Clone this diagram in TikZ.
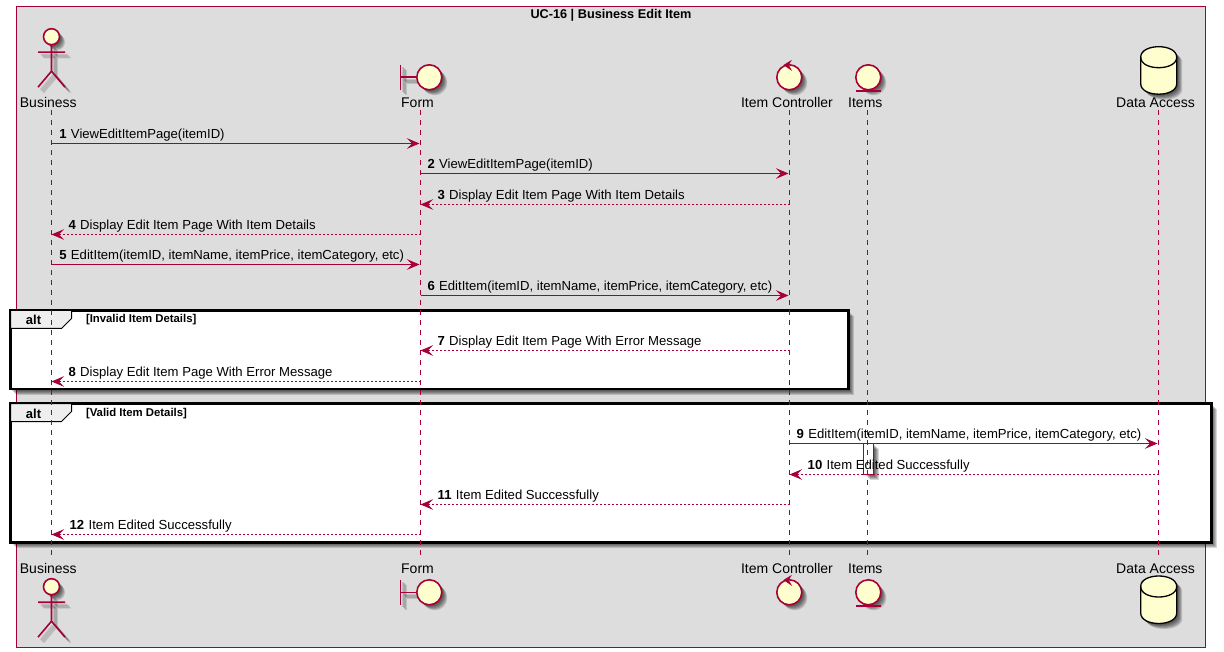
\documentclass[tikz,border=0pt]{standalone}
\usepackage{fontspec}
\setmainfont{Liberation Sans}
\usetikzlibrary{arrows.meta}
\definecolor{pu}{HTML}{A80036}
\definecolor{ylw}{HTML}{FEFECE}
\definecolor{bgbox}{HTML}{DDDDDD}
\definecolor{tabc}{HTML}{EEEEEE}
\newcommand{\softfill}[1]{\foreach \o in {1.5,2.5,3.5,4.5,5.5}{\fill[black,opacity=.16,shift={(\o,\o)}] #1;}}
\newcommand{\softdraw}[2]{\foreach \o in {2.5,3.5,4.5,5.5}{\draw[black,opacity=.13,line width=#1,shift={(\o,\o)}] #2;}}
\newcommand{\msgtxt}[2]{{\bfseries #1}\hspace{4.4pt}#2}
\tikzset{
  x=1pt,y=-1pt,
  every node/.style={inner sep=0pt,outer sep=0pt,font=\fontsize{13.12}{15}\selectfont,text=black},
  outerbox/.style={draw=pu,fill=bgbox,line width=1pt},
  party/.style={anchor=base,font=\fontsize{14}{16}\selectfont},
  life/.style={draw=pu,line width=1pt,dash pattern=on 5pt off 5pt},
  figline/.style={draw=pu,line width=1.6pt},
  figcirc/.style={draw=pu,fill=ylw,line width=1.6pt},
  msg/.style={draw=pu,line width=1pt,-{Stealth[length=12.5pt,width=10.5pt,inset=5pt,color=pu]},shorten >=1pt},
  reply/.style={draw=pu,line width=1pt,dash pattern=on 2pt off 2pt,-{Stealth[length=12.5pt,width=10.5pt,inset=5pt,color=pu,sep=0pt]}},
  msglabel/.style={anchor=base west},
  frame/.style={draw=black,fill=white,line width=2.2pt},
  tabshape/.style={draw=black,fill=tabc,line width=1pt},
  alttext/.style={anchor=base,font=\fontsize{13}{15}\selectfont\bfseries},
  guard/.style={anchor=base west,font=\fontsize{11.35}{13}\selectfont\bfseries},
  actorpic/.pic={
    \softdraw{1.6pt}{(0,8)--(0,34.5) (-13.5,15.5)--(13.5,15.5) (-13.5,50.5)--(0,34.5)--(13.5,50.5)}
    \softfill{(0,0) circle[radius=8]}
    \draw[figline] (0,8)--(0,34.5) (-13.5,15.5)--(13.5,15.5) (-13.5,50.5)--(0,34.5)--(13.5,50.5);
    \draw[figcirc] (0,0) circle[radius=8];
  },
  boundarypic/.pic={
    \softdraw{1.6pt}{(-29,-12.5)--(-29,12.5) (-29,0)--(-12.5,0)}
    \softfill{(0,0) circle[radius=12.5]}
    \draw[figline] (-29,-12.5)--(-29,12.5) (-29,0)--(-12.5,0);
    \draw[figcirc] (0,0) circle[radius=12.5];
  },
  controlpic/.pic={
    \softfill{(0,0) circle[radius=12.5]}
    \draw[figcirc] (0,0) circle[radius=12.5];
    \fill[pu] (-5.8,-12.3)--(2.6,-17.5)--(-0.5,-12.3)--(2.8,-6.3)--cycle;
  },
  entitypic/.pic={
    \softfill{(0,0) circle[radius=12.5]}
    \draw[figcirc] (0,0) circle[radius=12.5];
    \draw[figline] (-12.8,13.7)--(12.8,13.7);
  },
  dbpic/.pic={
    \softfill{(-18,10.5) .. controls (-18,-3.5) and (18,-3.5) .. (18,10.5) -- (18,37) .. controls (18,51) and (-18,51) .. (-18,37) -- cycle}
    \draw[fill=ylw,draw=black,line width=1.3pt] (-18,10.5) .. controls (-18,-3.5) and (18,-3.5) .. (18,10.5) -- (18,37) .. controls (18,51) and (-18,51) .. (-18,37) -- cycle;
    \draw[draw=black,line width=1.3pt] (-18,10.5) .. controls (-18,24.5) and (18,24.5) .. (18,10.5);
  }
}
\begin{document}
\begin{tikzpicture}
\useasboundingbox (0,0) rectangle (1224,652);
% outer box
\path[outerbox] (16.5,6.5) rectangle (1205.5,647.5);
\node[anchor=base,font=\fontsize{12.7}{14}\selectfont\bfseries] (title) at (611,19) {UC-16 | Business Edit Item};

% lifeline anchors
\coordinate (bT) at (51.5,110);  \coordinate (bB) at (51.5,556);
\coordinate (fT) at (420.5,110); \coordinate (fB) at (420.5,556);
\coordinate (cT) at (789.5,110); \coordinate (cB) at (789.5,556);
\coordinate (iT) at (867.5,110); \coordinate (iB) at (867.5,556);
\coordinate (dT) at (1158.5,110);\coordinate (dB) at (1158.5,556);

% alt frames
\softfill{(10.5,310.5) rectangle (848.5,389)}
\path[frame] (10.5,310.5) rectangle (848.5,389);
\path[tabshape] (10.5,310.5) -- (71.5,310.5) -- (71.5,318.5) -- (61.5,328.5) -- (10.5,328.5) -- cycle;
\node[alttext] (alt1) at (33.5,325) {alt};
\node[guard] (g1) at (86,323) {[Invalid Item Details]};

\softfill{(10.5,403.5) rectangle (1211.5,542.5)}
\path[frame] (10.5,403.5) rectangle (1211.5,542.5);
\path[tabshape] (10.5,403.5) -- (71.5,403.5) -- (71.5,411.5) -- (61.5,421.5) -- (10.5,421.5) -- cycle;
\node[alttext] (alt2) at (33.5,418) {alt};
\node[guard] (g2) at (86,416.5) {[Valid Item Details]};

% activation
\softfill{(864,443.5) rectangle (873.5,474.5)}
\node[draw=pu,fill=white,line width=1pt,minimum width=10pt,minimum height=31pt] (act) at (868.7,459) {};

% lifelines
\draw[life] (bT) -- (bB);
\draw[life] (fT) -- (fB);
\draw[life] (cT) -- (cB);
\draw[life] (iT) -- (iB);
\draw[life] (dT) -- (dB);

% participants
\pic at (51.5,36.7) {actorpic};
\pic at (51.5,586.7) {actorpic};
\pic at (429.3,77.3) {boundarypic};
\pic at (429.3,592.3) {boundarypic};
\pic at (789.3,77.3) {controlpic};
\pic at (789.3,592.3) {controlpic};
\pic at (868.3,77.3) {entitypic};
\pic at (868.3,592.3) {entitypic};
\pic at (1158.7,46.7) {dbpic};
\pic at (1158.7,576) {dbpic};

\node[party] (pb1) at (48.3,108) {Business};
\node[party] (pf1) at (417.5,108) {Form};
\node[party] (pc1) at (787,108) {Item Controller};
\node[party] (pi1) at (865.3,108) {Items};
\node[party] (pd1) at (1155.5,108) {Data Access};
\node[party] (pb2) at (48.3,573.3) {Business};
\node[party] (pf2) at (417.5,573.3) {Form};
\node[party] (pc2) at (787,573.3) {Item Controller};
\node[party] (pi2) at (865.3,573.3) {Items};
\node[party] (pd2) at (1155.5,573.3) {Data Access};

% message rows
\coordinate (m1) at (0,143.5); \coordinate (m2) at (0,173.5); \coordinate (m3) at (0,204.5);
\coordinate (m4) at (0,234.5); \coordinate (m5) at (0,264.5); \coordinate (m6) at (0,295.5);
\coordinate (m7) at (0,350.5); \coordinate (m8) at (0,381.5); \coordinate (m9) at (0,443.5);
\coordinate (m10) at (0,474.5);\coordinate (m11) at (0,504.5);\coordinate (m12) at (0,534.5);

\draw[msg] (bT|-m1) -- (fT|-m1);
\draw[msg] (fT|-m2) -- (cT|-m2);
\draw[reply] (cT|-m3) -- (fT|-m3);
\draw[reply] (fT|-m4) -- (bT|-m4);
\draw[msg] (bT|-m5) -- (fT|-m5);
\draw[msg] (fT|-m6) -- (cT|-m6);
\draw[reply] (cT|-m7) -- (fT|-m7);
\draw[reply] (fT|-m8) -- (bT|-m8);
\draw[msg] (cT|-m9) -- (dT|-m9);
\draw[reply] (dT|-m10) -- (cT|-m10);
\draw[reply] (cT|-m11) -- (fT|-m11);
\draw[reply] (fT|-m12) -- (bT|-m12);

\node[msglabel] (t1) at (59.3,138.3) {\msgtxt{1}{ViewEditItemPage(itemID)}};
\node[msglabel] (t2) at (427.5,168.8) {\msgtxt{2}{ViewEditItemPage(itemID)}};
\node[msglabel] (t3) at (437.5,199.8) {\msgtxt{3}{Display Edit Item Page With Item Details}};
\node[msglabel] (t4) at (68.5,229.8) {\msgtxt{4}{Display Edit Item Page With Item Details}};
\node[msglabel] (t5) at (59.3,259.8) {\msgtxt{5}{EditItem(itemID, itemName, itemPrice, itemCategory, etc)}};
\node[msglabel] (t6) at (427.5,290.8) {\msgtxt{6}{EditItem(itemID, itemName, itemPrice, itemCategory, etc)}};
\node[msglabel] (t7) at (437.5,345.8) {\msgtxt{7}{Display Edit Item Page With Error Message}};
\node[msglabel] (t8) at (68.5,376.3) {\msgtxt{8}{Display Edit Item Page With Error Message}};
\node[msglabel] (t9) at (796.7,438.8) {\msgtxt{9}{EditItem(itemID, itemName, itemPrice, itemCategory, etc)}};
\node[msglabel] (t10) at (807.7,469.8) {\msgtxt{10}{Item Edited Successfully}};
\node[msglabel] (t11) at (437.7,499.8) {\msgtxt{11}{Item Edited Successfully}};
\node[msglabel] (t12) at (69.7,529.8) {\msgtxt{12}{Item Edited Successfully}};
\end{tikzpicture}
\end{document}
